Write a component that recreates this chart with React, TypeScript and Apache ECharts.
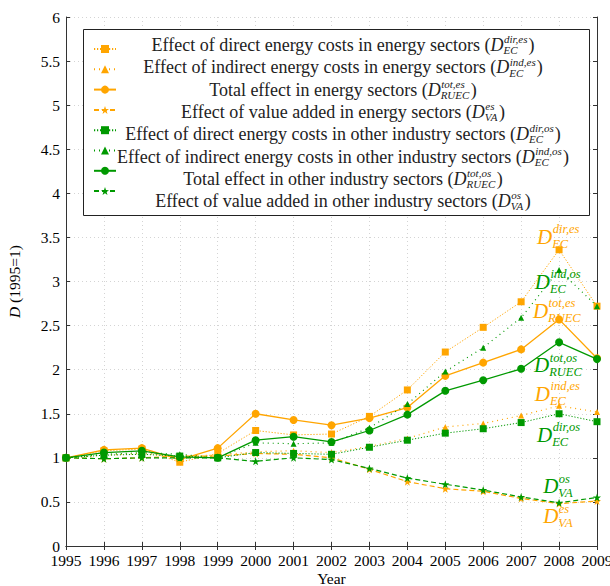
import React, { useEffect, useRef } from "react";
import * as echarts from "echarts";

const years = [1995, 1996, 1997, 1998, 1999, 2000, 2001, 2002, 2003, 2004, 2005, 2006, 2007, 2008, 2009];

const dirEs = [1.0, 1.08, 1.1, 0.95, 1.05, 1.31, 1.26, 1.27, 1.47, 1.77, 2.2, 2.48, 2.77, 3.36, 2.72];
const indEs = [1.0, 1.03, 1.05, 1.02, 1.03, 1.07, 1.08, 1.06, 1.13, 1.22, 1.35, 1.39, 1.48, 1.59, 1.52];
const totEs = [1.0, 1.09, 1.11, 0.98, 1.11, 1.5, 1.43, 1.37, 1.45, 1.57, 1.93, 2.08, 2.23, 2.57, 2.13];
const vaEs = [1.0, 0.99, 1.0, 1.02, 1.02, 1.05, 1.04, 1.0, 0.87, 0.73, 0.65, 0.62, 0.54, 0.48, 0.51];
const dirOs = [1.0, 1.03, 1.04, 1.02, 1.0, 1.06, 1.05, 1.04, 1.12, 1.2, 1.28, 1.33, 1.4, 1.5, 1.41];
const indOs = [1.0, 1.04, 1.06, 1.04, 1.0, 1.17, 1.16, 1.17, 1.34, 1.61, 1.98, 2.25, 2.59, 3.13, 2.72];
const totOs = [1.0, 1.06, 1.08, 1.01, 1.0, 1.2, 1.24, 1.18, 1.31, 1.49, 1.76, 1.88, 2.01, 2.31, 2.12];
const vaOs = [1.0, 0.99, 1.0, 1.0, 1.0, 0.96, 1.0, 0.98, 0.88, 0.77, 0.7, 0.635, 0.556, 0.49, 0.55];

const seriesNames = [
  "Effect of direct energy costs in energy sectors",
  "Effect of indirect energy costs in energy sectors",
  "Total effect in energy sectors",
  "Effect of value added in energy sectors",
  "Effect of direct energy costs in other industry sectors",
  "Effect of indirect energy costs in other industry sectors",
  "Total effect in other industry sectors",
  "Effect of value added in other industry sectors",
];
const seriesSup = ["dir,es", "ind,es", "tot,es", "es", "dir,os", "ind,os", "tot,os", "os"];
const seriesSub = ["EC", "EC", "RUEC", "VA", "EC", "EC", "RUEC", "VA"];

const yTicks = { min: 0, max: 6, interval: 0.5 };
const xTicks = { min: 1995, max: 2009, interval: 1 };

// end-of-line annotations: [x, y] anchor in data space, series index
const annX = [2007.42, 2007.36, 2007.31, 2007.34, 2007.36, 2007.42, 2007.58, 2007.58];
const annY = [3.505, 3.0, 2.67, 2.05, 1.725, 1.259, 0.675, 0.34];
const annSeries = [0, 5, 2, 6, 1, 4, 7, 3];

const ORANGE = "#FFA500";
const GREEN = "#009900";
const FONT = "'Liberation Serif', 'DejaVu Serif', serif";
const STAR =
  "path://M0,-10L2.35,-3.24L9.51,-3.09L3.8,1.24L5.88,8.09L0,4L-5.88,8.09L-3.8,1.24L-9.51,-3.09L-2.35,-3.24Z";

const seriesData = [dirEs, indEs, totEs, vaEs, dirOs, indOs, totOs, vaOs];
const seriesColor = [ORANGE, ORANGE, ORANGE, ORANGE, GREEN, GREEN, GREEN, GREEN];
const seriesSymbol = ["rect", "triangle", "circle", STAR, "rect", "triangle", "circle", STAR];
const symbolSizes = [7, 6, 8, 8, 7, 6, 8, 8];
const lineTypes: any[] = [[1.2, 1.8], [1, 4], "solid", [5, 3], [1.2, 1.8], [1, 4], "solid", [5, 3]];
const lineWidths = [1, 1.2, 1.3, 1.2, 1, 1.2, 1.3, 1.2];

let measureCtx: CanvasRenderingContext2D | null = null;
function measure(text: string, font: string) {
  if (!measureCtx) measureCtx = document.createElement("canvas").getContext("2d");
  measureCtx!.font = font;
  return measureCtx!.measureText(text).width;
}

function mathLabel(o: {
  x: number;
  y: number;
  prefix?: string;
  sup: string;
  sub: string;
  suffix?: string;
  size: number;
  script: number;
  supDy: number;
  subDy: number;
  color: string;
  center: boolean;
}) {
  const fN = `${o.size}px ${FONT}`;
  const fI = `italic ${o.size}px ${FONT}`;
  const fS = `italic ${o.script}px ${FONT}`;
  const wp = o.prefix ? measure(o.prefix, fN) : 0;
  const wD = measure("D", fI);
  const wsc = Math.max(measure(o.sup, fS), measure(o.sub, fS));
  const ws = o.suffix ? measure(o.suffix, fN) : 0;
  const total = wp + wD + wsc + 1.5 + ws;
  const x0 = o.center ? o.x - total / 2 : o.x;
  const mk = (text: string, x: number, y: number, size: number, italic: boolean) => ({
    type: "text",
    x,
    y,
    z: 20,
    style: {
      text,
      fontSize: size,
      fontFamily: FONT,
      fontStyle: italic ? "italic" : "normal",
      fill: o.color,
      textAlign: "left",
      textVerticalAlign: "middle",
      align: "left",
      verticalAlign: "middle",
    },
  });
  const els: any[] = [];
  if (o.prefix) els.push(mk(o.prefix, x0, o.y, o.size, false));
  els.push(mk("D", x0 + wp, o.y, o.size, true));
  els.push(mk(o.sup, x0 + wp + wD + 0.5, o.y + o.supDy, o.script, true));
  els.push(mk(o.sub, x0 + wp + wD, o.y + o.subDy, o.script, true));
  if (o.suffix) els.push(mk(o.suffix, x0 + wp + wD + wsc + 1.5, o.y, o.size, false));
  return els;
}

export default function App() {
  const ref = useRef<HTMLDivElement>(null);
  useEffect(() => {
    const chart = echarts.init(ref.current!, null, { renderer: "svg" });
    const series = seriesNames.map((name, i) => ({
      name,
      type: "line",
      data: years.map((yr, j) => [yr, seriesData[i][j]]),
      symbol: seriesSymbol[i],
      symbolSize: symbolSizes[i],
      itemStyle: { color: seriesColor[i] },
      lineStyle: { color: seriesColor[i], width: lineWidths[i], type: lineTypes[i] },
      z: i < 4 ? 2 : 3,
    }));
    const axisLabelStyle = { fontSize: 15.5, fontFamily: FONT, color: "#000" };
    const frameLine = { show: true, lineStyle: { color: "#333", width: 1 } };
    chart.setOption({
      animation: false,
      textStyle: { fontFamily: FONT },
      grid: {
        left: 66,
        right: 13,
        top: 17,
        bottom: 40,
        show: false,
        containLabel: false,
        outerBoundsMode: "none",
      },
      xAxis: [
        {
          type: "value",
          ...xTicks,
          axisLine: frameLine,
          axisTick: { inside: true, length: 4, lineStyle: { color: "#333" } },
          axisLabel: { ...axisLabelStyle, margin: 6, formatter: (v: number) => String(v) },
          splitLine: { show: true, lineStyle: { color: "#d4d4d4", type: [1, 3] } },
          name: "Year",
          nameLocation: "middle",
          nameGap: 24,
          nameMoveOverlap: false,
          nameTextStyle: { ...axisLabelStyle },
        },
        {
          type: "value",
          position: "top",
          ...xTicks,
          axisLine: frameLine,
          axisTick: { inside: true, length: 4, lineStyle: { color: "#333" } },
          axisLabel: { show: false },
          splitLine: { show: false },
        },
      ],
      yAxis: [
        {
          type: "value",
          ...yTicks,
          axisLine: frameLine,
          axisTick: { show: true, inside: true, length: 4, lineStyle: { color: "#333" } },
          axisLabel: { ...axisLabelStyle, margin: 6 },
          splitLine: { show: true, lineStyle: { color: "#d4d4d4", type: [1, 3] } },
          name: "{i|D} (1995=1)",
          nameLocation: "middle",
          nameGap: 44,
          nameMoveOverlap: false,
          nameTextStyle: {
            ...axisLabelStyle,
            rich: { i: { fontStyle: "italic", fontSize: 15.5, fontFamily: FONT, color: "#000" } },
          },
        },
        {
          type: "value",
          position: "right",
          ...yTicks,
          axisLine: frameLine,
          axisTick: { show: true, inside: true, length: 4, lineStyle: { color: "#333" } },
          axisLabel: { show: false },
          splitLine: { show: false },
        },
      ],
      legend: {
        orient: "vertical",
        left: 88,
        top: 40,
        itemWidth: 22,
        itemHeight: 10,
        itemGap: 12.3,
        z: 10,
        data: seriesNames,
        formatter: () => "",
        textStyle: { fontSize: 8, lineHeight: 8 },
        selectedMode: false,
      },
      series,
    });

    const graphics: any[] = [
      {
        type: "rect",
        z: 5,
        shape: { x: 83.5, y: 29.5, width: 506, height: 186 },
        style: { fill: "#fff", stroke: "#222", lineWidth: 1 },
      },
    ];
    seriesNames.forEach((name, i) => {
      graphics.push(
        ...mathLabel({
          x: 343,
          y: 45 + 22.3 * i,
          prefix: name + " (",
          sup: seriesSup[i],
          sub: seriesSub[i],
          suffix: ")",
          size: 18,
          script: 11,
          supDy: -5.75,
          subDy: 5.25,
          color: "#222",
          center: true,
        })
      );
    });
    annX.forEach((ax, k) => {
      const p = chart.convertToPixel({ xAxisIndex: 0, yAxisIndex: 0 }, [ax, annY[k]]) as number[];
      const si = annSeries[k];
      graphics.push(
        ...mathLabel({
          x: p[0],
          y: p[1],
          sup: seriesSup[si],
          sub: seriesSub[si],
          size: 21,
          script: 12.5,
          supDy: -7.5,
          subDy: 7,
          color: seriesColor[si],
          center: false,
        })
      );
    });
    chart.setOption({ graphic: graphics });
    return () => chart.dispose();
  }, []);
  return (
    <div
      ref={ref}
      style={{ position: "fixed", left: 0, top: 0, width: 610, height: 586, background: "#fff" }}
    />
  );
}
